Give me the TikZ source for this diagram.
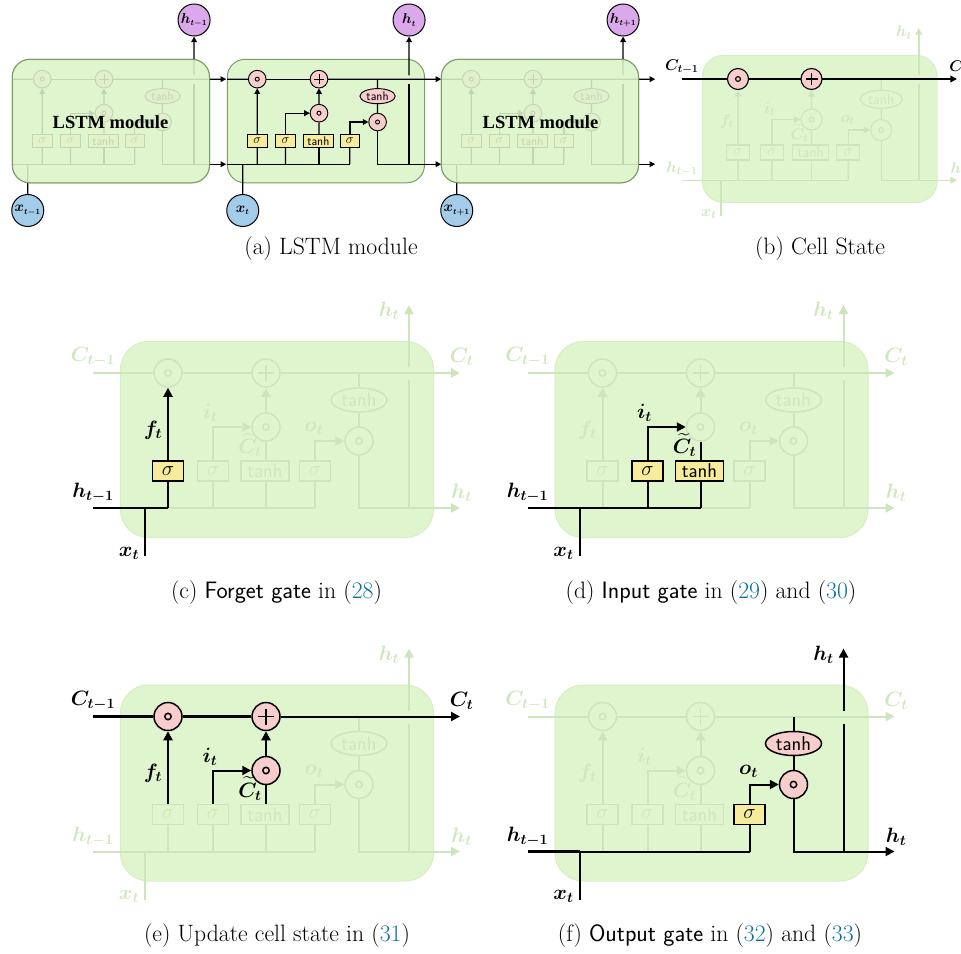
\documentclass[tikz,border=0pt]{standalone}
\usepackage{amsmath,bm}
\usepackage{fontspec}
\DeclareMathSizes{14.4}{14.4}{8}{6}
\newfontfamily\timesf{Liberation Serif}
\usetikzlibrary{arrows.meta,calc,shapes.geometric}
\definecolor{boxc}{HTML}{DFF5CE}
\definecolor{boxedge}{HTML}{D6EEC4}
\definecolor{modedge}{HTML}{7A9C66}
\definecolor{dimc}{HTML}{CDE5BB}
\definecolor{dimt}{HTML}{CFE6BE}
\definecolor{pinkc}{HTML}{F8CECC}
\definecolor{yelc}{HTML}{F6EC9B}
\definecolor{bluec}{HTML}{A3CCEB}
\definecolor{purc}{HTML}{DBA9EB}
\definecolor{citec}{HTML}{0B6FA4}
\makeatletter
\newif\iflit
\newif\ifoverlaybox
\newif\ifcelllabels
\newcommand\chk[1]{\edef\tmpchk{\noexpand\in@{,#1,}{,\litlist,}}\tmpchk\ifin@\littrue\else\litfalse\fi}
\makeatother
\newcommand\wirep[3][]{\chk{#2}%
  \ifnum\wpass=0 \iflit\else\draw[wire,draw=dimc,tk/.style={},ck/.style={},#1] #3;\fi
  \else\iflit\draw[wire,draw=black,#1] #3;\fi\fi}
\newcommand\cnode[6]{\chk{#1}%
  \iflit\def\curcol{black}\tikzset{cur/.style={draw=black,text=black,fill=#2}}%
  \else\def\curcol{dimc}\tikzset{cur/.style={draw=dimc,text=dimt,fill=boxc}}\fi
  \node[#3,cur,line width=\cellb pt] (#4) at (#5) {#6};}
\newcommand\clabel[4]{\ifcelllabels\chk{#1}%
  \iflit\def\curt{black}\else\def\curt{dimt}\fi
  \node[lab,text=\curt] (#2) at (#3) {#4};\fi}
\tikzset{
  x=1pt,y=-1pt,
  wire/.style={line width=\cellw pt,line join=miter},
  tip/.style={-{Triangle[length=0pt 4.5,width=0pt 4.5]}},
  lab/.style={inner sep=0pt,font=\fontsize{20}{22}\selectfont},
  gatebox/.style={rectangle,inner sep=0pt,minimum height=20pt,font=\fontsize{20}{22}\selectfont\sffamily},
  circ/.style={circle,inner sep=0pt,minimum size=28pt},
  ell/.style={ellipse,inner sep=0pt,minimum width=56pt,minimum height=24pt,font=\fontsize{20}{22}\selectfont\sffamily},
  tk/.style={},ck/.style={},
  endp/.style={circle,draw=black,line width=1pt,inner sep=0pt,minimum size=32pt,font=\fontsize{14.4}{16}\selectfont},
  figcap/.style={anchor=base,inner sep=0pt,font=\fontsize{23.7}{26}\selectfont},
  modtxt/.style={inner sep=0pt,font=\fontsize{18.5}{20}\timesf\bfseries\selectfont}
}
% #1 prefix, #2 origin, #3 scale, #4 lit groups, #5 x start, #6 x of arrow ends, #7 target up, #8 target down
\newcommand\lstmcell[8]{%
\begin{scope}[shift={(#2)},scale=#3,transform shape]
  \def\litlist{#4}%
  \pgfmathsetmacro\cellw{2*#3}\pgfmathsetmacro\cellb{1.5*#3}\pgfmathsetmacro\cellr{28*#3}%
  \node[rectangle,anchor=north west,minimum width=313pt,minimum height=196pt,rounded corners=\cellr pt,fill=boxc,draw=\boxedgecol,line width=1pt,inner sep=0pt] (#1box) at (0,0) {};
  \coordinate (#1cin) at (#5,32);
  \coordinate (#1cout) at (#6,32);
  \coordinate (#1hin) at (#5,167);
  \coordinate (#1hout) at (#6,167);
  \coordinate (#1jx) at (25,167);
  \coordinate (#1j1) at (48,167);
  \coordinate (#1j2) at (93,167);
  \coordinate (#1j3) at (146,167);
  \coordinate (#1j4) at (195,167);
  \coordinate (#1jc) at (239,32);
  \coordinate (#1jh) at (289,167);
  \coordinate (#1g1) at (289,39);
  \coordinate (#1g2) at (289,26);
  \coordinate (#1htip) at (289,-36);
  \coordinate (#1xend) at (25,215);
  % nodes
  \cnode{N1}{pinkc}{circ}{#1c1}{48,32}{}
  \draw[draw=\curcol,line width=\cellb pt] (#1c1.center) circle[radius=3.2];
  \cnode{N2}{pinkc}{circ}{#1p}{146,32}{}
  \draw[draw=\curcol,line width=\cellb pt] ($(#1p.center)+(-8,0)$) -- ($(#1p.center)+(8,0)$) ($(#1p.center)+(0,-8)$) -- ($(#1p.center)+(0,8)$);
  \cnode{N3}{pinkc}{circ}{#1c2}{146,86}{}
  \draw[draw=\curcol,line width=\cellb pt] (#1c2.center) circle[radius=3.2];
  \cnode{T}{pinkc}{circ}{#1c3}{239,100}{}
  \draw[draw=\curcol,line width=\cellb pt] (#1c3.center) circle[radius=3.2];
  \cnode{T}{pinkc}{ell}{#1e}{239,59}{tanh}
  \cnode{S1}{yelc}{gatebox,minimum width=31pt}{#1s1}{48,130}{$\sigma$}
  \cnode{S2}{yelc}{gatebox,minimum width=31pt}{#1s2}{93,130}{$\sigma$}
  \cnode{S3}{yelc}{gatebox,minimum width=48pt}{#1t}{145,130}{tanh}
  \cnode{S4}{yelc}{gatebox,minimum width=31pt}{#1s3}{195,130}{$\sigma$}
  % wires: faded ones first, then lit ones on top
  \foreach \wpass in {0,1}{%
    \wirep{S1}{(#1j1) -- (#1s1)}
    \wirep{S2}{(#1j2) -- (#1s2)}
    \wirep{S3}{(#1j3) -- (#1t.south -| #1j3)}
    \wirep{S4}{(#1j4) -- (#1s3)}
    \wirep[tip]{F}{(#1s1) -- (#1c1)}
    \wirep[tip]{I}{(#1s2) |- (#1c2)}
    \wirep{CT}{(#1t.north -| #1c2) -- (#1c2)}
    \wirep[tip]{A}{(#1c2) -- (#1p)}
    \wirep[tip]{O}{(#1s3) |- (#1c3)}
    \wirep{T}{(#1jc) -- (#1e)}
    \wirep{T}{(#1e) -- (#1c3)}
    \wirep[tip]{R}{(#1c3) |- (#1hout)}
    \wirep{V}{(#1jh) -- (#1g1)}
    \wirep[tip]{U}{(#1g2) -- #7}
    \wirep{X}{(#1jx) -- #8}
    \wirep[tk]{H0}{(#1hin) -- (#1jx)}
    \wirep{H1}{(#1jx) -- (#1j1)}
    \wirep{H2}{(#1j1) -- (#1j2)}
    \wirep{H3}{(#1j2) -- (#1j3)}
    \wirep{H4}{(#1j3) -- (#1j4)}
    \wirep[tk]{C1}{(#1cin) -- (#1c1)}
    \wirep[ck]{C2}{(#1c1) -- (#1p)}
    \wirep[tip]{C3}{(#1p) -- (#1cout)}
  }
  \clabel{C1}{#1lc0}{-27,16}{$\bm{C}_{\bm{t-1}}$}
  \clabel{C3}{#1lc1}{341.6,16}{$\bm{C}_{\bm{t}}$}
  \clabel{U}{#1lh0}{269,-30}{$\bm{h}_{\bm{t}}$}
  \clabel{F}{#1lf}{33,89}{$\bm{f}_{\bm{t}}$}
  \clabel{I}{#1li}{90,72}{$\bm{i}_{\bm{t}}$}
  \clabel{CT}{#1lct}{130,104}{$\widetilde{\bm{C}}_{\bm{t}}$}
  \clabel{O}{#1lo}{194,87}{$\bm{o}_{\bm{t}}$}
  \clabel{H0}{#1lh1}{-27,152}{$\bm{h}_{\bm{t-1}}$}
  \clabel{R}{#1lh2}{341.6,152}{$\bm{h}_{\bm{t}}$}
  \clabel{X}{#1lx}{9,212}{$\bm{x}_{\bm{t}}$}
  \ifoverlaybox
    \node[rectangle,anchor=north west,minimum width=313pt,minimum height=196pt,rounded corners=\cellr pt,fill=boxc,fill opacity=.87,draw=\boxedgecol,line width=1pt,inner sep=0pt] (#1veil) at (0,0) {};
  \fi
\end{scope}}
\def\allg{N1,N2,N3,T,S1,S2,S3,S4,F,I,CT,A,O,R,V,U,X,H0,H1,H2,H3,H4,C1,C2,C3}
\begin{document}
\begin{tikzpicture}
\path[use as bounding box,clip] (0,0) rectangle (961,953);
% ---- panel (a)
\node[endp,fill=purc] (m1h) at (194.07,20) {$\bm{h}_{\bm{t-1}}$};
\node[endp,fill=purc] (m2h) at (409.07,20) {$\bm{h}_{\bm{t}}$};
\node[endp,fill=purc] (m3h) at (623.07,20) {$\bm{h}_{\bm{t+1}}$};
\node[endp,fill=bluec] (m1x) at (27.75,210.5) {$\bm{x}_{\bm{t-1}}$};
\node[endp,fill=bluec] (m2x) at (242.75,210.5) {$\bm{x}_{\bm{t}}$};
\node[endp,fill=bluec] (m3x) at (456.75,210.5) {$\bm{x}_{\bm{t+1}}$};
\def\boxedgecol{modedge}
\celllabelsfalse
\overlayboxtrue
\lstmcell{a}{12,59}{.63}{\allg}{0}{340}{(m1h)}{(m1x)}
\overlayboxfalse
\lstmcell{b}{227,59}{.63}{\allg}{0}{340}{(m2h)}{(m2x)}
\overlayboxtrue
\lstmcell{d}{441,59}{.63}{\allg}{0}{340}{(m3h)}{(m3x)}
\overlayboxfalse
\node[modtxt] (mt1) at (110.5,122) {LSTM module};
\node[modtxt] (mt3) at (540.5,122) {LSTM module};
% ---- panels (b)-(f)
\def\boxedgecol{boxedge}
\celllabelstrue
\tikzset{tk/.style={line width=2.7pt}}
\lstmcell{g}{702,55}{.75}{C1,C2,C3,N1,N2}{-27}{340}{(ghtip)}{(gxend)}
\lstmcell{k}{120,341}{1}{H0,X,H1,S1,F}{-27}{340}{(khtip)}{(kxend)}
\lstmcell{l}{554.5,341}{1}{H0,X,H1,H2,H3,S2,S3,I,CT}{-27}{340}{(lhtip)}{(lxend)}
\begin{scope}
\tikzset{ck/.style={line width=2.7pt}}
\lstmcell{q}{120,684.5}{1}{C1,C2,C3,N1,N2,N3,F,I,CT,A}{-27}{340}{(qhtip)}{(qxend)}
\end{scope}
\lstmcell{r}{554.5,684.5}{1}{H0,X,H1,H2,H3,H4,S4,O,T,R,V,U}{-27}{340}{(rhtip)}{(rxend)}
% ---- captions
\node[figcap] (ca) at (331,254.5) {(a) LSTM module};
\node[figcap] (cb) at (820,254.5) {(b) Cell State};
\node[figcap] (cc) at (276.5,598.5) {(c) {\sffamily Forget gate} in ({\color{citec}28})};
\node[figcap] (cd) at (711,598.5) {(d) {\sffamily Input gate} in ({\color{citec}29}) and ({\color{citec}30})};
\node[figcap] (ce) at (277,941) {(e) Update cell state in ({\color{citec}31})};
\node[figcap] (cf) at (710,941) {(f) {\sffamily Output gate} in ({\color{citec}32}) and ({\color{citec}33})};
\end{tikzpicture}
\end{document}
